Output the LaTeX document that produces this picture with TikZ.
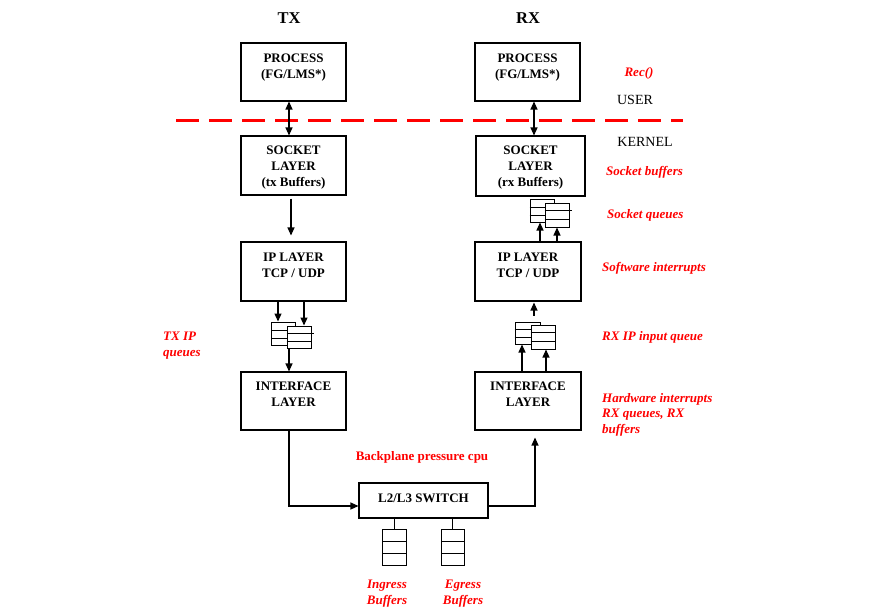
\documentclass[tikz,border=0pt]{standalone}
\usepackage{fontspec}
\setmainfont{Liberation Serif}
\usetikzlibrary{arrows.meta,calc}
\begin{document}
\begin{tikzpicture}[x=1pt,y=-1pt,
  box/.style={draw,line width=1.05pt,minimum width=105pt,minimum height=58pt,inner sep=0pt},
  boxtext/.style={font=\fontsize{13}{16}\selectfont\bfseries,align=center,inner sep=0pt},
  title/.style={font=\fontsize{16.5}{18}\selectfont\bfseries,inner sep=0pt},
  side/.style={font=\fontsize{14}{16}\selectfont,inner sep=0pt},
  note/.style={font=\fontsize{13}{15.5}\selectfont\bfseries\itshape,text=red,inner sep=0pt,align=left},
  qbox/.style={draw,line width=1pt,fill=white,minimum width=24pt,minimum height=23pt,inner sep=0pt},
  cell/.style={draw,line width=1pt,fill=white,minimum width=24pt,minimum height=11.7pt,inner sep=0pt},
  arr/.style={line width=1.1pt,-{Triangle[length=8pt,width=7pt]}},
  darr/.style={line width=1.1pt,{Triangle[length=8pt,width=7pt]}-{Triangle[length=8pt,width=7pt]}},
  ln/.style={line width=1pt}
]
\useasboundingbox (0,0) rectangle (894,608);

% titles
\node[title] (tx) at (289,18) {TX};
\node[title] (rx) at (528,18) {RX};

% boxes TX
\node[box] (txp) at (293.5,72) {};
\node[boxtext] (txpt) at (293.5,67.5) {PROCESS\\(FG/LMS*)};
\node[box,minimum height=59pt] (txs) at (293.5,165.5) {};
\node[boxtext] (txst) at (293.5,168) {SOCKET\\LAYER\\(tx Buffers)};
\node[box,minimum height=59pt] (txip) at (293.5,271.5) {};
\node[boxtext] (txipt) at (293.5,265.5) {IP LAYER\\TCP / UDP};
\node[box] (txif) at (293.5,401) {};
\node[boxtext] (txift) at (293.5,394.5) {INTERFACE\\LAYER};

% boxes RX
\node[box] (rxp) at (527.5,72) {};
\node[boxtext] (rxpt) at (527.5,67.5) {PROCESS\\(FG/LMS*)};
\node[box,minimum width=109pt,minimum height=60pt] (rxs) at (530.5,166) {};
\node[boxtext] (rxst) at (530.5,167.5) {SOCKET\\LAYER\\(rx Buffers)};
\node[box,minimum width=106pt,minimum height=59pt] (rxip) at (528,271.5) {};
\node[boxtext] (rxipt) at (528,265.5) {IP LAYER\\TCP / UDP};
\node[box,minimum width=106pt] (rxif) at (528,401) {};
\node[boxtext] (rxift) at (528,394.5) {INTERFACE\\LAYER};

% switch
\node[box,minimum width=129pt,minimum height=35pt] (sw) at (423.5,500.5) {};
\node[boxtext] (swt) at (423.5,498) {L2/L3 SWITCH};

% dashed separator
\coordinate (dl) at (176,120);
\coordinate (dr) at (683,120);
\draw[red,line width=3pt,dash pattern=on 23pt off 10pt] (dl) -- (dr);

% user / kernel
\node[side] (user) at (635,100) {USER};
\node[side] (kernel) at (645,142) {KERNEL};

% red notes
\node[note] (rec) at (639,73) {Rec()};
\node[note,anchor=west] (sb) at (606,172) {Socket buffers};
\node[note,anchor=west] (sq) at (607,215) {Socket queues};
\node[note,anchor=west] (si) at (602,268) {Software interrupts};
\node[note,anchor=west] (rq) at (602,337) {RX IP input queue};
\node[note,anchor=north west] (hw) at (602,393) {Hardware interrupts\\RX queues, RX\\buffers};
\node[note,anchor=north west] (txq) at (163,332) {TX IP\\queues};
\node[note,font=\fontsize{13}{15.5}\selectfont\bfseries] (bp) at (422,457) {Backplane pressure cpu};
\node[note,align=center,anchor=north] (ing) at (387,580) {Ingress\\Buffers};
\node[note,align=center,anchor=north] (egr) at (463,580) {Egress\\Buffers};

% TX queues
\node[qbox] (tq1) at (283.5,333.5) {};
\draw[ln] ($(tq1.north west)+(0,9)$) -- ($(tq1.north east)+(0,9)$);
\draw[ln] ($(tq1.north west)+(0,17)$) -- ($(tq1.north east)+(0,17)$);
\node[qbox,minimum height=22pt] (tq2) at (299,337) {};
\draw[ln] ($(tq2.north west)+(0,8)$) -- ($(tq2.north east)+(2,8)$);
\draw[ln] ($(tq2.north west)+(0,16)$) -- ($(tq2.north east)+(0,16)$);

% RX socket queues
\node[qbox] (sq1) at (542,210.5) {};
\draw[ln] ($(sq1.north west)+(0,9)$) -- ($(sq1.north east)+(0,9)$);
\draw[ln] ($(sq1.north west)+(0,17)$) -- ($(sq1.north east)+(0,17)$);
\node[qbox,minimum height=24pt] (sq2) at (557,215) {};
\draw[ln] ($(sq2.north west)+(0,8)$) -- ($(sq2.north east)+(2,8)$);
\draw[ln] ($(sq2.north west)+(0,17)$) -- ($(sq2.north east)+(0,17)$);

% RX IP input queues
\node[qbox,minimum width=25pt,minimum height=22pt] (rq1) at (527.5,333) {};
\draw[ln] ($(rq1.north west)+(0,8)$) -- ($(rq1.north east)+(0,8)$);
\draw[ln] ($(rq1.north west)+(0,16)$) -- ($(rq1.north east)+(0,16)$);
\node[qbox,minimum height=24pt] (rq2) at (543,337) {};
\draw[ln] ($(rq2.north west)+(0,8)$) -- ($(rq2.north east)+(0,8)$);
\draw[ln] ($(rq2.north west)+(0,17)$) -- ($(rq2.north east)+(0,17)$);

% switch buffers
\node[cell] (in1) at (394,535.8) {};
\node[cell] (in2) at (394,547.5) {};
\node[cell] (in3) at (394,559.2) {};
\node[cell,minimum width=23pt] (eg1) at (452.5,535.8) {};
\node[cell,minimum width=23pt] (eg2) at (452.5,547.5) {};
\node[cell,minimum width=23pt] (eg3) at (452.5,559.2) {};
\draw[ln] (sw.south -| in1.north) -- (in1.north);
\draw[ln] (sw.south -| eg1.north) -- (eg1.north);

% TX connectors
\draw[darr] ([xshift=-4.5pt]txp.south) -- ([xshift=-4.5pt]txs.north);
\draw[arr,shorten <=3pt,shorten >=6pt] ([xshift=-2.5pt]txs.south) -- ([xshift=-2.5pt]txip.north);
\draw[arr] (txip.south -| 278,0) -- (tq1.north -| 278,0);
\draw[arr] (txip.south -| 304,0) -- (tq2.north -| 304,0);
\draw[arr] (tq2.south -| 289,0) -- (txif.north -| 289,0);

% RX connectors
\draw[darr] ([xshift=6.5pt]rxp.south) -- (rxs.north -| 534,0);
\draw[arr] (rxip.north -| 540,0) -- (sq1.south -| 540,0);
\draw[arr] (rxip.north -| 557,0) -- (sq2.south -| 557,0);
\draw[arr,shorten <=6pt,shorten >=1pt] (rq1.north -| 534,0) -- (rxip.south -| 534,0);
\draw[arr] (rxif.north -| 522,0) -- (rq1.south -| 522,0);
\draw[arr] (rxif.north -| 546,0) -- (rq2.south -| 546,0);

% switch connectors
\draw[arr] (txif.south -| 289,0) |- ([yshift=-5.5pt]sw.west);
\draw[arr,shorten >=7pt] ([yshift=-5.5pt]sw.east) -| (rxif.south -| 535,0);
\end{tikzpicture}
\end{document}
